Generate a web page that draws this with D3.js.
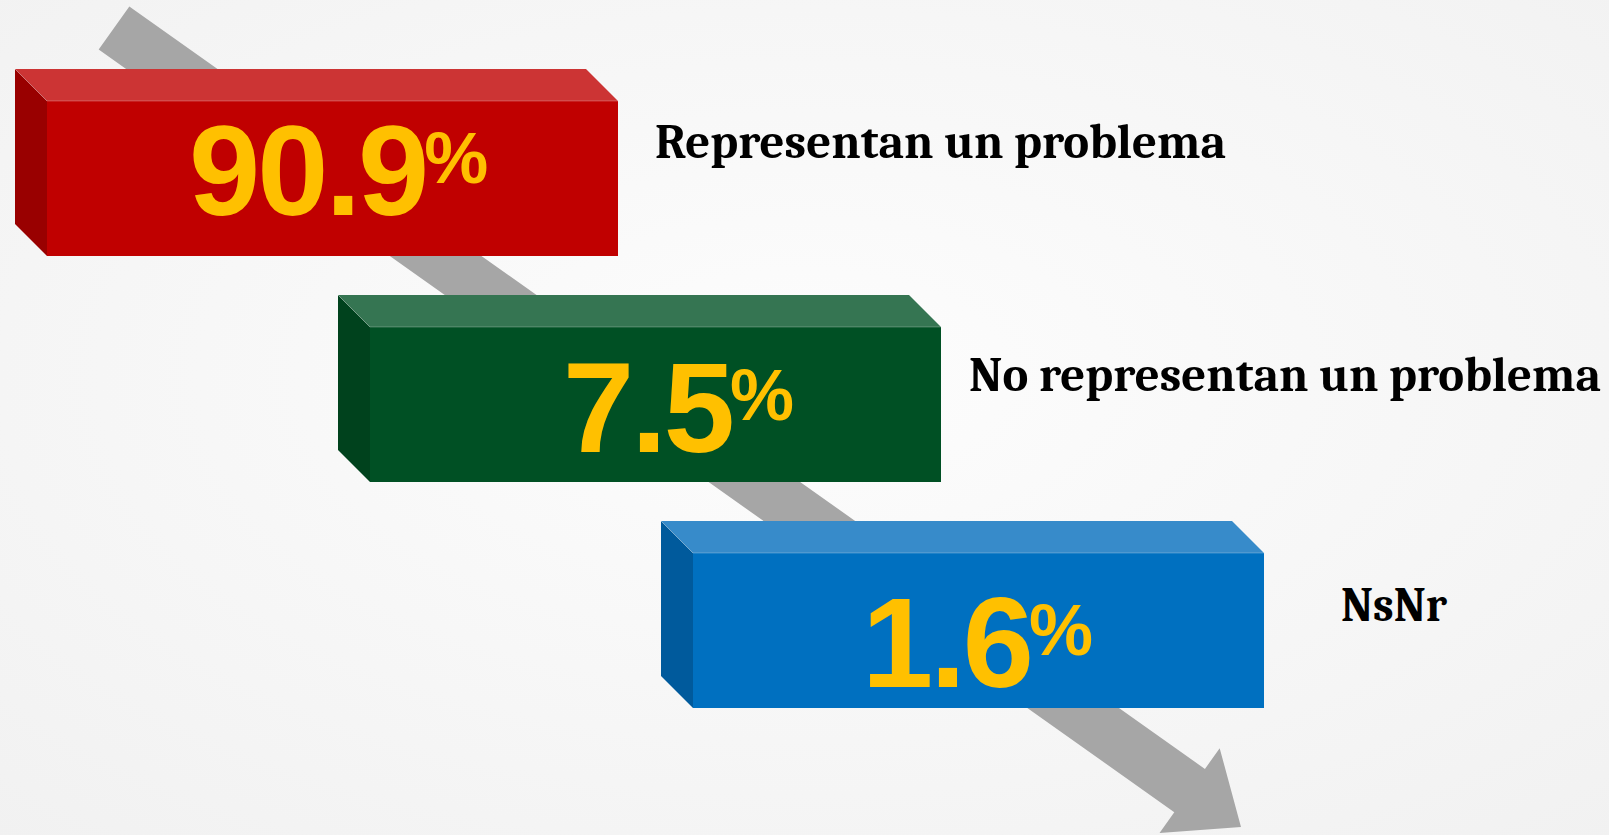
<!DOCTYPE html>
<html>
<head>
<meta charset="utf-8">
<script src="https://cdn.jsdelivr.net/npm/d3@7"></script>
<style>
  html, body { margin: 0; padding: 0; overflow: hidden; }
  svg { display: block; }
</style>
</head>
<body>
<svg id="chart"></svg>
<script>
'use strict';

// data
const categories = ['Representan un problema', 'No representan un problema', 'NsNr'];
const values = [90.9, 7.5, 1.6];
const frontColors = ['#C00000', '#005024', '#0070C0'];
const topColors = ['#CC3434', '#357552', '#378BCA'];
const sideColors = ['#990000', '#00421D', '#005A9C'];

// layout (per row tweaks)
const labelX = [655, 969, 1341];
const labelDy = [57, 64, 68];
const labelWidth = [571, 632, 106];
const valueDx = [142, 193, 169];
const valueDy = [114, 125, 134];

const width = 1609;
const height = 835;
const boxW = 571;
const boxH = 155;
const depth = 32;

const svg = d3.select('#chart').attr('width', width).attr('height', height);

// background
const defs = svg.append('defs');
const grad = defs
  .append('radialGradient')
  .attr('id', 'bg')
  .attr('cx', '50%')
  .attr('cy', '45%')
  .attr('r', '75%');
grad.append('stop').attr('offset', '0%').attr('stop-color', '#FDFDFD');
grad.append('stop').attr('offset', '100%').attr('stop-color', '#F1F1F1');
svg.append('rect').attr('width', width).attr('height', height).attr('fill', 'url(#bg)');

// step positions
const xScale = d3.scalePoint().domain(categories).range([47, 693]);
const yScale = d3.scalePoint().domain(categories).range([101, 553]);

// grey arrow behind the boxes
const tail = [114, 28];
const tip = [1241, 827];
const bandHalf = 26.5;
const headLen = 63;
const headHalf = 52;
const len = Math.hypot(tip[0] - tail[0], tip[1] - tail[1]);
const u = [(tip[0] - tail[0]) / len, (tip[1] - tail[1]) / len];
const n = [-u[1], u[0]];
const base = [tip[0] - u[0] * headLen, tip[1] - u[1] * headLen];
const pt = (p, k) => [p[0] + n[0] * k, p[1] + n[1] * k];
const arrowPts = [
  pt(tail, bandHalf),
  pt(base, bandHalf),
  pt(base, headHalf),
  tip,
  pt(base, -headHalf),
  pt(base, -bandHalf),
  pt(tail, -bandHalf),
];
svg
  .append('path')
  .attr('d', d3.line()(arrowPts) + 'Z')
  .attr('fill', '#A6A6A6');

// boxes
const rows = categories.map((c, i) => ({
  key: c,
  value: values[i],
  i: i,
}));

const g = svg
  .selectAll('.row')
  .data(rows)
  .enter()
  .append('g')
  .attr('class', 'row');

g.append('path')
  .attr('d', (d) => {
    const x = xScale(d.key);
    const y = yScale(d.key);
    return d3.line()([[x - depth, y - depth], [x + boxW - depth, y - depth], [x + boxW, y], [x, y]]) + 'Z';
  })
  .attr('fill', (d) => topColors[d.i]);

g.append('path')
  .attr('d', (d) => {
    const x = xScale(d.key);
    const y = yScale(d.key);
    return d3.line()([[x - depth, y - depth], [x, y], [x, y + boxH], [x - depth, y + boxH - depth]]) + 'Z';
  })
  .attr('fill', (d) => sideColors[d.i]);

g.append('rect')
  .attr('x', (d) => xScale(d.key))
  .attr('y', (d) => yScale(d.key))
  .attr('width', boxW)
  .attr('height', boxH)
  .attr('fill', (d) => frontColors[d.i]);

// light bevel edge
g.append('path')
  .attr('d', (d) => {
    const x = xScale(d.key);
    const y = yScale(d.key);
    return d3.line()([[x - depth, y - depth], [x, y], [x + boxW, y]]);
  })
  .attr('fill', 'none')
  .attr('stroke', 'rgba(255,255,255,0.25)')
  .attr('stroke-width', 1);

// value text
const vt = g
  .append('text')
  .attr('x', (d) => xScale(d.key) + valueDx[d.i])
  .attr('y', (d) => yScale(d.key) + valueDy[d.i])
  .attr('fill', '#FFC000')
  .style('font-family', "'Liberation Sans', Arial, sans-serif")
  .style('font-weight', 'bold')
  .style('font-size', '128px')
  .style('letter-spacing', '-3px');

vt.append('tspan').text((d) => d3.format('.1f')(d.value));
vt.append('tspan')
  .attr('dx', -2)
  .attr('dy', -32)
  .style('font-size', '72px')
  .text('%');

// category labels
g.append('text')
  .attr('x', (d) => labelX[d.i])
  .attr('y', (d) => yScale(d.key) + labelDy[d.i])
  .attr('textLength', (d) => labelWidth[d.i])
  .attr('lengthAdjust', 'spacingAndGlyphs')
  .attr('fill', '#000000')
  .style('font-family', "Cambria, 'Liberation Serif', 'DejaVu Serif', serif")
  .style('font-weight', 'bold')
  .style('font-size', '48px')
  .text((d) => d.key);
</script>
</body>
</html>
